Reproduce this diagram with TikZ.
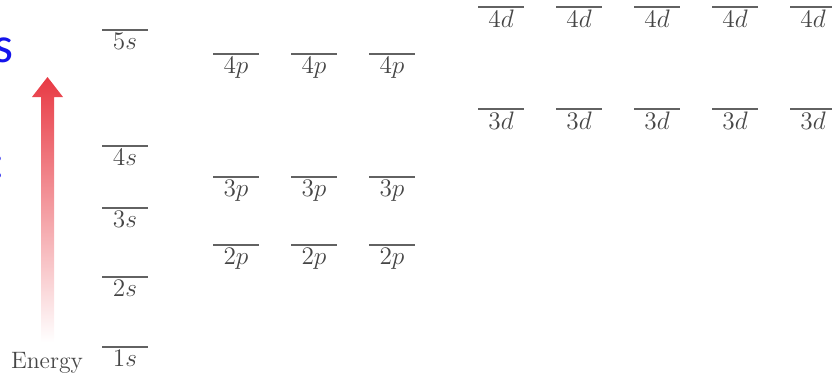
\documentclass[tikz,border=0pt]{standalone}
\usepackage{fontspec}
\usepackage{xcolor}
\usepackage{tikz}
\usetikzlibrary{positioning}
\newfontfamily\slidefont{Carlito}
\definecolor{myblue}{RGB}{20,20,235}
\definecolor{mygray}{RGB}{70,70,70}
\definecolor{myred}{RGB}{232,58,68}
\definecolor{mypink}{RGB}{243,150,145}

\begin{document}
\begin{tikzpicture}[x=0.02cm, y=-0.02cm, font=\fontsize{13.5}{16}\selectfont,
  level/.style={draw=mygray!85, line width=0.9pt},
  lbl/.style={midway, below, inner sep=1.5pt, text=mygray}]
  \useasboundingbox (0,0) rectangle (832,379);

  % cut-off slide text on the left
  \node[anchor=base east, inner sep=0, text=myblue, font=\slidefont\fontsize{29}{32}\selectfont]
    (slideA) at (13.5,62) {s};
  \node[anchor=base east, inner sep=0, text=myblue, font=\slidefont\fontsize{29}{32}\selectfont]
    (slideB) at (5.5,178) {:};

  % energy arrow
  \shade[top color=myred, middle color=mypink, bottom color=white]
    (41,342) -- (41,97) -- (32,97) -- (47.5,77) -- (63,97) -- (54,97) -- (54,342) -- cycle;
  \node[anchor=base, text=mygray] (energy) at (47,368) {Energy};

  % s levels
  \foreach \n/\y in {1/347,2/277,3/208,4/146,5/30}{
    \draw[level] (102,\y) -- (148,\y) node[lbl] (s\n) {$\n s$};
  }

  % p levels
  \foreach \n/\y in {2/245,3/177,4/54}{
    \foreach \k in {0,1,2}{
      \draw[level] (213+78*\k,\y) -- (259+78*\k,\y) node[lbl] (p\n\k) {$\n p$};
    }
  }

  % d levels
  \foreach \n/\y in {3/109,4/7}{
    \foreach \k in {0,...,4}{
      \draw[level] (478+78*\k,\y) -- (524+78*\k,\y) node[lbl] (d\n\k) {$\n d$};
    }
  }
\end{tikzpicture}
\end{document}
